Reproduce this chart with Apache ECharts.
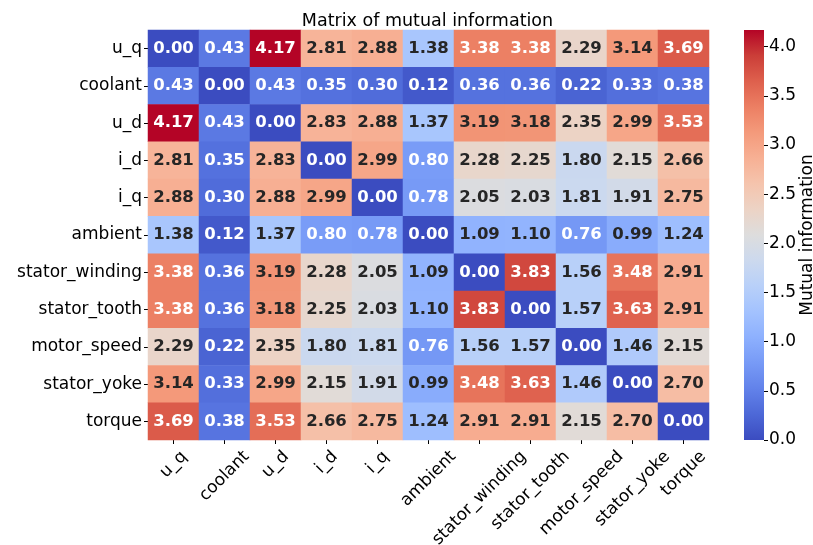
<!DOCTYPE html>
<html>
<head>
<meta charset="utf-8">
<script src="https://cdn.jsdelivr.net/npm/echarts@6/dist/echarts.min.js"></script>
<style>
  html, body { margin: 0; padding: 0; background: #fff; }
  #chart { width: 813px; height: 545px; }
</style>
</head>
<body>
<div id="chart"></div>
<script>
// Feature names (rows and columns of the symmetric matrix)
const features = ['u_q', 'coolant', 'u_d', 'i_d', 'i_q', 'ambient',
  'stator_winding', 'stator_tooth', 'motor_speed', 'stator_yoke', 'torque'];

// Mutual information between each pair of features, one row per feature
const row_u_q            = [0.00, 0.43, 4.17, 2.81, 2.88, 1.38, 3.38, 3.38, 2.29, 3.14, 3.69];
const row_coolant        = [0.43, 0.00, 0.43, 0.35, 0.30, 0.12, 0.36, 0.36, 0.22, 0.33, 0.38];
const row_u_d            = [4.17, 0.43, 0.00, 2.83, 2.88, 1.37, 3.19, 3.18, 2.35, 2.99, 3.53];
const row_i_d            = [2.81, 0.35, 2.83, 0.00, 2.99, 0.80, 2.28, 2.25, 1.80, 2.15, 2.66];
const row_i_q            = [2.88, 0.30, 2.88, 2.99, 0.00, 0.78, 2.05, 2.03, 1.81, 1.91, 2.75];
const row_ambient        = [1.38, 0.12, 1.37, 0.80, 0.78, 0.00, 1.09, 1.10, 0.76, 0.99, 1.24];
const row_stator_winding = [3.38, 0.36, 3.19, 2.28, 2.05, 1.09, 0.00, 3.83, 1.56, 3.48, 2.91];
const row_stator_tooth   = [3.38, 0.36, 3.18, 2.25, 2.03, 1.10, 3.83, 0.00, 1.57, 3.63, 2.91];
const row_motor_speed    = [2.29, 0.22, 2.35, 1.80, 1.81, 0.76, 1.56, 1.57, 0.00, 1.46, 2.15];
const row_stator_yoke    = [3.14, 0.33, 2.99, 2.15, 1.91, 0.99, 3.48, 3.63, 1.46, 0.00, 2.70];
const row_torque         = [3.69, 0.38, 3.53, 2.66, 2.75, 1.24, 2.91, 2.91, 2.15, 2.70, 0.00];

const matrix = [row_u_q, row_coolant, row_u_d, row_i_d, row_i_q, row_ambient,
  row_stator_winding, row_stator_tooth, row_motor_speed, row_stator_yoke, row_torque];

// Colour bar tick values
const colorbarTicks = [0.0, 0.5, 1.0, 1.5, 2.0, 2.5, 3.0, 3.5, 4.0];

const vmin = 0;
const vmax = Math.max(...matrix.flat());

// coolwarm diverging colormap, sampled at 17 evenly spaced stops
const coolwarm = [
  [59, 76, 192], [77, 104, 215], [98, 130, 234], [119, 154, 246],
  [141, 176, 254], [163, 194, 254], [184, 208, 249], [204, 217, 238],
  [221, 221, 221], [236, 211, 197], [245, 196, 173], [247, 176, 148],
  [244, 154, 123], [236, 127, 99], [222, 96, 77], [203, 62, 56],
  [180, 4, 38]
];
const toHex = c => '#' + c.map(v => Math.round(v).toString(16).padStart(2, '0')).join('');
const coolwarmHex = coolwarm.map(toHex);

function sampleColormap(t) {
  t = Math.min(1, Math.max(0, t));
  const pos = t * (coolwarm.length - 1);
  const i = Math.min(coolwarm.length - 2, Math.floor(pos));
  const f = pos - i;
  return coolwarm[i].map((v, k) => v + (coolwarm[i + 1][k] - v) * f);
}

// Choose white or dark annotation text based on the cell's relative luminance
function textColorFor(value) {
  const rgb = sampleColormap((value - vmin) / (vmax - vmin)).map(v => {
    const c = v / 255;
    return c <= 0.03928 ? c / 12.92 : Math.pow((c + 0.055) / 1.055, 2.4);
  });
  const lum = 0.2126 * rgb[0] + 0.7152 * rgb[1] + 0.0722 * rgb[2];
  return lum > 0.408 ? '#262626' : '#ffffff';
}

const cells = [];
matrix.forEach((row, r) => {
  row.forEach((v, c) => {
    cells.push({ value: [c, r, v], label: { color: textColorFor(v) } });
  });
});

const FONT = 'DejaVu Sans';
const TICK_FONT_SIZE = 17;
const gridLeft = 148, gridTop = 30, gridW = 561, gridH = 410;
const cbLeft = 744, cbW = 20;

// Rotated x labels: the rotated text's bounding box is centred under its tick,
// hanging just below the axis. Each label is centred on its anchor and then
// pushed down by padding on its right/top edges (in the text's own frame).
const measureCtx = document.createElement('canvas').getContext('2d');
measureCtx.font = TICK_FONT_SIZE + 'px "' + FONT + '"';
const LABEL_MARGIN = 8;       // anchor distance below the axis
const LABEL_PAD = 7;          // gap between axis and top of rotated box
const TEXT_H = TICK_FONT_SIZE * 1.15;
const xRich = {};
features.forEach((name, i) => {
  const w = measureCtx.measureText(name).width;
  const half = Math.SQRT1_2 * (w + TEXT_H) / 2;
  const d = LABEL_PAD + half - LABEL_MARGIN;
  const s = Math.SQRT1_2 * d;
  xRich['l' + i] = {
    fontFamily: FONT, fontSize: TICK_FONT_SIZE, color: '#000',
    padding: [2 * s, 2 * s, 0, 0]
  };
});

const chart = echarts.init(document.getElementById('chart'), null, { renderer: 'canvas' });

chart.setOption({
  backgroundColor: '#ffffff',
  animation: false,
  title: {
    text: 'Matrix of mutual information',
    left: gridLeft + gridW / 2 - 6,
    textAlign: 'center',
    top: 7,
    textStyle: { fontFamily: FONT, fontSize: 17.5, fontWeight: 'normal', color: '#000' }
  },
  grid: [
    { left: gridLeft, top: gridTop, width: gridW, height: gridH, outerBoundsMode: 'none', containLabel: false },
    // colour bar scale: its axis sits on the bar's right edge, ticks and labels point outward
    { left: cbLeft + cbW, top: gridTop, width: 30, height: gridH, outerBoundsMode: 'none', containLabel: false }
  ],
  xAxis: [
    {
      type: 'category', gridIndex: 0, data: features,
      axisLine: { show: false },
      axisTick: { show: true, length: 4, alignWithLabel: true, lineStyle: { color: '#000' } },
      axisLabel: {
        rotate: 45, margin: LABEL_MARGIN, interval: 0,
        align: 'center', verticalAlign: 'middle',
        fontFamily: FONT, fontSize: TICK_FONT_SIZE, color: '#000',
        formatter: (value, index) => '{l' + index + '|' + value + '}',
        rich: xRich
      },
      splitArea: { show: false }
    },
    {
      type: 'value', gridIndex: 1, min: 0, max: 1, show: false
    }
  ],
  yAxis: [
    {
      type: 'category', gridIndex: 0, data: features, inverse: true,
      axisLine: { show: false },
      axisTick: { show: true, length: 4, alignWithLabel: true, lineStyle: { color: '#000' } },
      axisLabel: { margin: 6, interval: 0, fontFamily: FONT, fontSize: TICK_FONT_SIZE, color: '#000' },
      splitArea: { show: false }
    },
    {
      type: 'value', gridIndex: 1, position: 'left',
      min: vmin, max: vmax, interval: 0.5,
      axisLine: { show: false },
      splitLine: { show: false },
      axisTick: { show: true, inside: true, length: 4, lineStyle: { color: '#000' } },
      axisLabel: {
        inside: true, showMaxLabel: false, margin: 5,
        fontFamily: FONT, fontSize: TICK_FONT_SIZE, color: '#000',
        formatter: v => colorbarTicks.includes(+v.toFixed(1)) ? v.toFixed(1) : ''
      }
    }
  ],
  visualMap: {
    show: false,
    type: 'continuous',
    min: vmin, max: vmax,
    dimension: 2,
    seriesIndex: 0,
    inRange: { color: coolwarmHex }
  },
  graphic: [
    {
      type: 'rect',
      shape: { x: cbLeft, y: gridTop, width: cbW, height: gridH },
      style: {
        fill: new echarts.graphic.LinearGradient(0, 1, 0, 0,
          coolwarmHex.map((c, i) => ({ offset: i / (coolwarmHex.length - 1), color: c })))
      },
      z: 1
    },
    {
      type: 'text',
      x: 808,
      y: gridTop + gridH / 2,
      rotation: Math.PI / 2,
      style: {
        text: 'Mutual information',
        fontFamily: FONT, fontSize: TICK_FONT_SIZE, fill: '#000',
        align: 'center', verticalAlign: 'middle'
      }
    }
  ],
  series: [
    {
      type: 'heatmap',
      xAxisIndex: 0, yAxisIndex: 0,
      data: cells,
      label: {
        show: true,
        fontFamily: FONT, fontSize: 16.5, fontWeight: 'bold',
        formatter: p => p.value[2].toFixed(2)
      },
      itemStyle: { borderWidth: 0 },
      emphasis: { disabled: true }
    }
  ]
});
</script>
</body>
</html>
